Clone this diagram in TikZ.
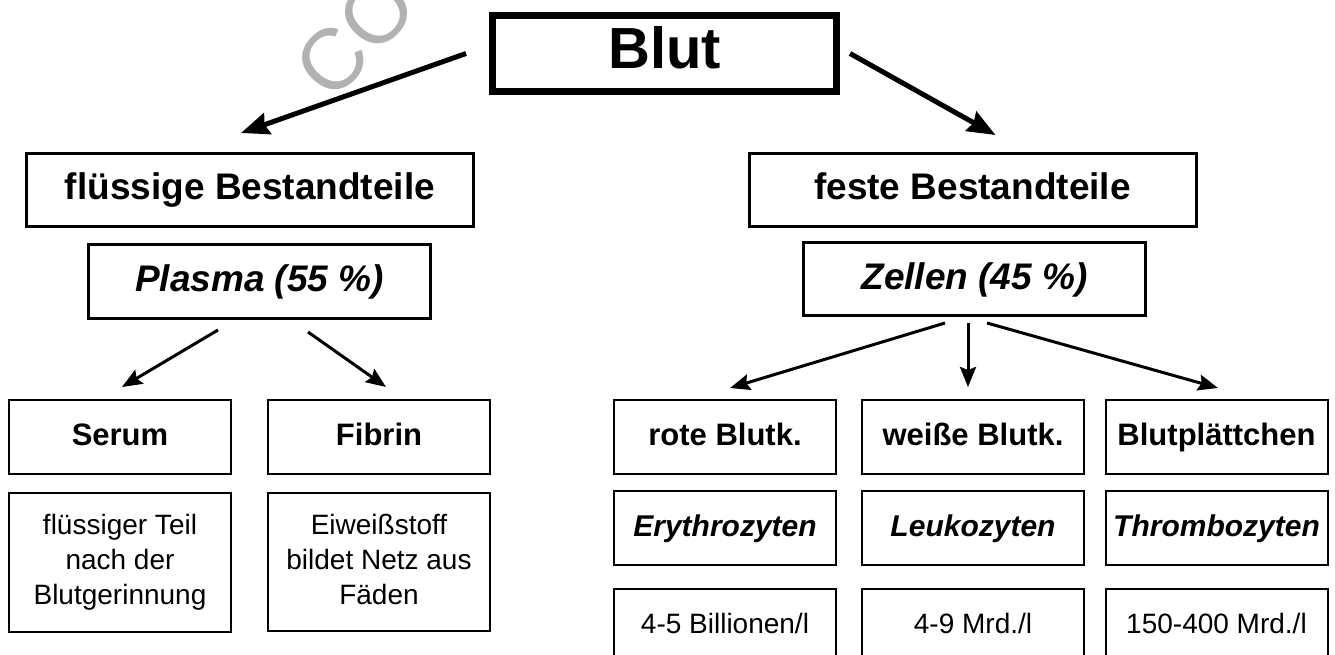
\documentclass[tikz,border=0pt]{standalone}
\usepackage{fontspec}
\setmainfont{Liberation Sans}
\usetikzlibrary{arrows.meta}

\begin{document}
\begin{tikzpicture}[
  x=1pt, y=-1pt,
  >={Stealth[length=20pt,width=16pt,inset=3pt]},
  box/.style={draw,line width=2pt,minimum width=222pt,minimum height=74pt,inner sep=0,align=center,font=\fontsize{28}{35}\selectfont},
  headbox/.style={box,line width=3pt,minimum width=447pt,minimum height=73pt,text height=27pt,text depth=7pt,font=\bfseries\fontsize{37}{40}\selectfont},
  partbox/.style={box,line width=3pt,minimum width=342pt,minimum height=74pt,text height=27pt,text depth=7pt,font=\bfseries\itshape\fontsize{37}{40}\selectfont},
  namebox/.style={box,text height=22pt,text depth=6pt,font=\bfseries\fontsize{31}{34}\selectfont},
  latbox/.style={box,text height=22pt,text depth=6pt,font=\bfseries\itshape\fontsize{30}{34}\selectfont},
  numbox/.style={box,text height=20pt,text depth=6pt},
  bigarrow/.style={->,line width=5pt,>={Stealth[length=28pt,width=22pt,inset=3pt]}},
  smallarrow/.style={->,line width=3pt}
  ]

  \clip (0, 0) rectangle (1335, 655);
  \node [text=black!30, rotate=47, inner sep=0, font=\fontsize{86}{86}\selectfont] (wm) at (355, 36) {CO};

  % top
  \node [box, line width=7pt, minimum width=344pt, minimum height=76pt, text height=42pt, text depth=11pt, font=\bfseries\fontsize{58}{60}\selectfont] (blut) at (664.5, 53.5) {Blut};
  \node [headbox] (fluessig) at (250, 190) {flüssige Bestandteile};
  \node [headbox] (fest) at (972.5, 190) {feste Bestandteile};
  \draw [bigarrow] ([xshift=-23pt]blut.west) -- ([shift={(-9pt,19pt)}]fluessig.north);
  \draw [bigarrow] ([xshift=10pt]blut.east) -- ([shift={(23pt,17pt)}]fest.north);

  \node [partbox] (plasma) at (259.5, 281.5) {Plasma (55 \%)};
  \node [partbox, minimum height=73pt] (zellen) at (974.5, 279) {Zellen (45 \%)};


  % left: plasma
  \node [namebox] (serum) at (120, 437) {Serum};
  \node [namebox] (fibrin) at (379, 437) {Fibrin};
  \node [box, minimum height=139pt] (serumtxt) at (120, 562.5) {flüssiger Teil\\nach der\\Blutgerinnung};
  \node [box, minimum height=138pt, text depth=6pt] (fibrintxt) at (379, 562) {Eiweißstoff\\bildet Netz aus\\Fäden};
  \draw [smallarrow] ([shift={(-41.5pt,-10pt)}]plasma.south) -- ([shift={(2pt,12pt)}]serum.north);
  \draw [smallarrow] ([shift={(48.5pt,-12pt)}]plasma.south) -- ([shift={(7pt,12pt)}]fibrin.north);


  % right: zellen
  \node [namebox] (rote) at (725, 437) {rote Blutk.};
  \node [namebox] (weisse) at (973, 437) {weiße Blutk.};
  \node [namebox] (plaett) at (1216.5, 437) {Blutplättchen};
  \node [latbox] (ery) at (725, 528) {Erythrozyten};
  \node [latbox] (leuko) at (973, 528) {Leukozyten};
  \node [latbox] (thrombo) at (1216.5, 528) {Thrombozyten};
  \node [numbox] (eryzahl) at (725, 626) {4-5 Billionen/l};
  \node [numbox] (leukozahl) at (973, 626) {4-9 Mrd./l};
  \node [numbox] (thrombozahl) at (1216.5, 626) {150-400 Mrd./l};
  \draw [smallarrow] ([shift={(-29.5pt,-6pt)}]zellen.south) -- ([shift={(5pt,11pt)}]rote.north);
  \draw [smallarrow] ([shift={(-6.5pt,-6pt)}]zellen.south) -- ([shift={(-5pt,12pt)}]weisse.north);
  \draw [smallarrow] ([shift={(12.5pt,-6pt)}]zellen.south) -- ([shift={(1.5pt,11pt)}]plaett.north);


\end{tikzpicture}
\end{document}
